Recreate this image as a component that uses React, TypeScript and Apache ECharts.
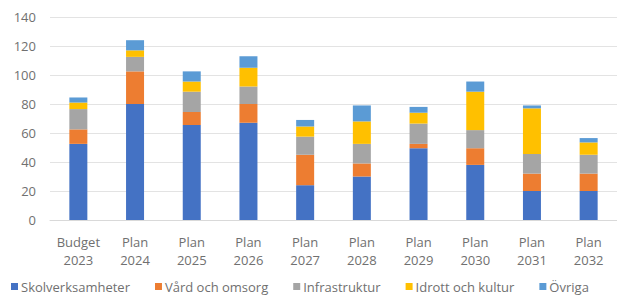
import React, { useEffect, useRef } from "react";
import * as echarts from "echarts";

const categories = ["Budget\n2023", "Plan\n2024", "Plan\n2025", "Plan\n2026", "Plan\n2027", "Plan\n2028", "Plan\n2029", "Plan\n2030", "Plan\n2031", "Plan\n2032"];
const skolverksamheter = [52.5, 80, 65.5, 67, 24, 30, 49.5, 38, 20, 20];
const vardOchOmsorg = [10, 22.5, 9, 13, 21, 9, 3, 11.5, 12, 12];
const infrastruktur = [14, 10, 14, 12, 12.5, 13.5, 14, 12.5, 13.5, 13];
const idrottOchKultur = [4.5, 4.5, 7, 13, 7, 15.5, 7.5, 26.5, 31.5, 8.5];
const ovriga = [3.5, 7, 7, 8, 4.5, 11, 4, 7, 2, 3];

const seriesDefs = [
  { name: "Skolverksamheter", data: skolverksamheter, color: "#4472C4" },
  { name: "Vård och omsorg", data: vardOchOmsorg, color: "#ED7D31" },
  { name: "Infrastruktur", data: infrastruktur, color: "#A5A5A5" },
  { name: "Idrott och kultur", data: idrottOchKultur, color: "#FFC000" },
  { name: "Övriga", data: ovriga, color: "#5B9BD5" },
];

export default function App() {
  const ref = useRef<HTMLDivElement>(null);
  useEffect(() => {
    if (!ref.current) return;
    const chart = echarts.init(ref.current, null, { renderer: "svg" });
    const font = "'Open Sans', 'Liberation Sans', sans-serif";
    chart.setOption({
      animation: false,
      backgroundColor: "#ffffff",
      textStyle: { fontFamily: font },
      grid: { left: 50, right: 0, top: 17, bottom: 77 },
      legend: {
        top: 280,
        left: 11,
        padding: 0,
        itemWidth: 7,
        itemHeight: 7,
        itemGap: 25,
        icon: "rect",
        textStyle: { color: "#707070", fontSize: 13, fontFamily: font, padding: [0, 0, 0, -2] },
        data: seriesDefs.map((s) => s.name),
      },
      xAxis: {
        type: "category",
        data: categories,
        axisLine: { lineStyle: { color: "#d9d9d9" } },
        axisTick: { show: false },
        axisLabel: { color: "#707070", fontSize: 13, lineHeight: 18, margin: 13, fontFamily: font },
      },
      yAxis: {
        type: "value",
        min: 0,
        max: 140,
        interval: 20,
        axisLine: { show: false },
        axisTick: { show: false },
        splitLine: { lineStyle: { color: "#e3e3e3" } },
        axisLabel: { color: "#707070", fontSize: 13, margin: 14, fontFamily: font },
      },
      series: seriesDefs.map((s) => ({
        name: s.name,
        type: "bar",
        stack: "total",
        data: s.data,
        barWidth: 18,
        itemStyle: { color: s.color },
      })),
    });
    return () => chart.dispose();
  }, []);
  return <div ref={ref} style={{ position: "absolute", left: 0, top: 0, width: 617, height: 297 }} />;
}
